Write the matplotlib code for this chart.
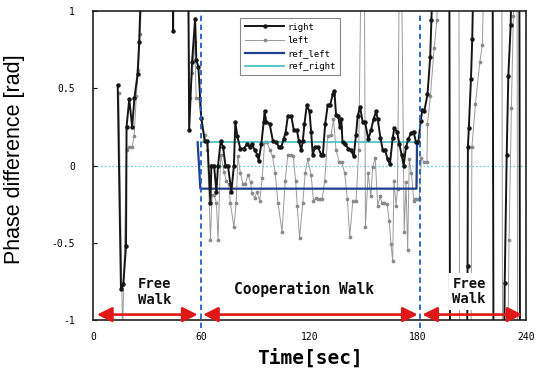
import numpy as np
import matplotlib
matplotlib.use("Agg")
import matplotlib.pyplot as plt

# ---------------- data ----------------
# right-foot phase difference (values beyond +/-1 rad run off the axes)
right_t = [13.7, 15.5, 16.8, 18.3, 18.6, 20.1, 21.7, 23.0, 24.7, 25.6, 27.0,
           44.2, 44.4, 44.6,
           52.8, 53.3, 54.9, 56.6, 57.3, 58.4, 60.0,
           61.9, 63.4, 65.1, 65.6, 67.1, 68.4, 69.3, 70.8, 72.1, 73.4, 74.8, 76.7, 78.1, 78.9,
           80.0, 81.6, 83.6, 85.5, 86.8, 88.1, 89.6, 91.1, 91.8, 93.3, 94.6, 95.1, 96.1, 97.9,
           99.7, 101.6, 103.0, 104.4, 105.6, 106.7, 108.0, 109.9, 111.3, 113.0, 114.1, 115.4,
           116.3, 117.2, 118.5, 120.0, 120.9, 121.8, 123.1, 124.6, 126.5, 127.4, 128.7, 130.1,
           131.4, 132.9, 133.8, 134.7, 135.9, 136.8, 137.6, 138.3, 139.4, 141.6, 143.0, 144.5,
           145.8, 146.7, 148.0, 149.5, 150.8, 152.6, 154.1, 155.5, 156.9, 157.8, 159.3, 160.6,
           161.9, 163.3, 164.6, 166.1, 167.0, 168.5, 169.8, 171.0, 172.2, 173.5, 174.8, 176.2,
           177.7, 179.0, 180.3, 181.7, 182.5, 183.6, 185.4, 186.9, 187.6, 188.5,
           197.5, 197.9,
           207.3, 207.6, 207.8, 208.3, 209.5, 210.2, 211.0,
           221.5, 222.0,
           227.8, 228.2, 229.3, 230.2, 231.5, 232.2,
           236.3, 236.7]
right_v = [0.52, -0.80, -0.77, -0.52, 0.25, 0.43, 0.25, 0.44, 0.59, 0.80, 1.3,
           1.3, 0.87, 1.3,
           1.3, 0.23, 0.67, 0.95, 0.68, 0.64, 0.31,
           0.16, 0.16, -0.24, 0.0, 0.0, -0.17, 0.0, 0.16, 0.12, 0.0, 0.0, -0.17, 0.0, 0.28,
           0.19, 0.11, 0.11, 0.14, 0.12, 0.14, 0.10, 0.07, 0.03, 0.14, 0.28, 0.35, 0.28, 0.27,
           0.16, 0.15, 0.12, 0.12, 0.17, 0.21, 0.32, 0.32, 0.23, 0.23, 0.16, 0.10,
           0.16, 0.27, 0.39, 0.35, 0.22, 0.07, 0.12, 0.12, 0.07, 0.07, 0.27, 0.39,
           0.39, 0.46, 0.48, 0.33, 0.32, 0.25, 0.30, 0.15, 0.14, 0.11, 0.10, 0.06,
           0.20, 0.32, 0.38, 0.28, 0.28, 0.17, 0.23, 0.30, 0.35, 0.30, 0.18, 0.10,
           0.10, 0.04, 0.01, 0.18, 0.24, 0.22, 0.14, 0.07, 0.0, 0.12, 0.17, 0.21,
           0.22, 0.15, 0.15, 0.29, 0.36, 0.35, 0.46, 0.70, 0.94, 1.3,
           1.3, -1.3,
           -1.3, -0.65, 0.12, 0.24, 0.56, 0.82, 1.3,
           1.3, -1.3,
           -1.3, -0.76, 0.07, 0.58, 0.91, 1.3,
           1.3, -1.3]

# left-foot phase difference
left_t = [14.3, 16.4, 18.6, 20.1, 21.7, 22.8, 24.0, 25.2, 26.2, 27.5,
          52.3, 53.6, 55.1, 56.3, 57.2, 58.6, 59.8,
          61.9, 63.4, 65.1, 66.0, 67.1, 68.4, 69.3, 70.8, 72.6, 73.9, 75.2, 76.1, 78.1, 79.4,
          80.3, 81.7, 83.1, 84.5, 85.9, 87.4, 88.1, 89.6, 90.9, 92.4, 93.8, 95.1, 96.5, 98.0,
          99.5, 101.0, 102.5, 104.8, 106.5, 108.0, 109.5, 111.0, 112.3, 113.2, 114.5, 116.3,
          117.6, 119.0, 120.9, 122.2, 123.5, 124.6, 126.0, 127.0, 128.4, 130.1, 132.0, 133.3,
          134.7, 136.6, 138.0, 139.5, 141.0, 142.3, 144.0, 145.8, 147.3, 148.6, 150.4, 151.0,
          152.5, 154.0, 155.0, 156.4, 157.8, 159.2, 160.0, 161.5, 163.0, 164.2, 165.2, 166.1,
          166.8, 168.0, 168.8, 169.8, 171.0, 172.5, 173.5, 174.4, 175.3, 176.5, 177.8, 178.6,
          179.6, 180.8, 182.0, 183.5, 185.1, 185.4, 187.0, 189.1, 190.6, 191.4,
          202.8, 203.2,
          209.5, 210.0, 212.0, 214.4, 215.8, 216.8,
          226.6, 227.0,
          229.8, 230.6, 231.9, 233.0, 233.6,
          235.0, 235.4]
left_v = [0.47, -1.1, 0.10, 0.12, 0.12, 0.19, 0.45, 0.62, 0.85, 1.3,
          1.3, 0.44, 0.60, 0.80, 0.44, 0.44, 0.30,
          0.20, 0.10, -0.48, -0.19, -0.19, -0.24, -0.48, 0.07, -0.04, -0.10, -0.12, -0.24, -0.40, -0.24,
          0.06, -0.05, -0.12, -0.12, -0.06, -0.11, -0.18, -0.21, -0.17, -0.23, -0.08, 0.15, 0.15, 0.10,
          0.06, -0.05, -0.24, -0.43, -0.10, 0.07, 0.07, 0.06, -0.10, -0.26, -0.47, -0.24,
          -0.05, 0.04, -0.06, -0.23, -0.21, -0.22, -0.22, -0.22, -0.10, 0.19, 0.20, 0.30,
          0.10, 0.02, 0.02, -0.05, -0.22, -0.46, -0.23, -0.23, 0.10, 1.3, 1.3, -0.40,
          -0.05, -0.20, -0.01, 0.05, -0.26, -0.20, -0.24, -0.24, -0.25, -0.36, -0.51, -0.62,
          -0.10, -0.26, -0.15, 1.3, 1.3, -0.43, -0.11, -0.55, 0.04, -0.05, -0.23, -0.22,
          -0.22, -0.22, 0.05, 0.02, 0.02, 0.27, 0.45, 0.76, 0.94, 1.3,
          1.3, -1.3,
          -1.3, 0.12, 0.40, 0.67, 0.78, 1.3,
          1.3, -1.3,
          -1.3, -0.48, 0.37, 0.97, 1.3,
          1.3, -1.3]

# reference values during cooperation walk
ref_left_t = [58.0, 59.5, 179.3, 179.6, 180.3]
ref_left_v = [0.15, -0.15, -0.15, 0.15, 0.15]
ref_right_t = [60.1, 180.3]
ref_right_v = [0.15, 0.15]

# phases
phase_bounds = [0, 60, 180, 240]
phase_names = ["Free\nWalk", "Cooperation Walk", "Free\nWalk"]

x_ticks = [0, 60, 120, 180, 240]
y_ticks = [-1, -0.5, 0, 0.5, 1]

# ---------------- plot ----------------
MONO = ["DejaVu Sans Mono"]
fig = plt.figure(figsize=(5.39, 3.69), dpi=100)
ax = fig.add_axes([93/539, 1-320/369, (526-93)/539, (320-11)/369])

ax.axhline(0, color="#7ccfd6", lw=0.9, ls=(0, (1.5, 1.5)), zorder=1)

ax.plot(left_t, left_v, color="#9a9a9a", lw=0.7, marker="o", ms=1.7,
        mfc="#8a8a8a", mec="#8a8a8a", label="left", zorder=2)
ax.plot(ref_left_t, ref_left_v, color="#1f3f8f", lw=1.6, label="ref_left", zorder=2.5)
ax.plot(ref_right_t, ref_right_v, color="#4cc4c4", lw=1.3, label="ref_right", zorder=2.4)
ax.plot(right_t, right_v, color="#151515", lw=1.4, marker="o", ms=2.2,
        label="right", zorder=3)

# phase boundaries
for b in phase_bounds[1:-1]:
    b_draw = b if b < 120 else b + 1.5
    ax.plot([b_draw, b_draw], [-1.05, 1.0], color="#1f5fc8", lw=1.3,
            ls=(0, (3, 2)), clip_on=False, zorder=4)

# arrows and phase names
arrow_y = -0.965
gaps = [(2.2, -2.0), (1.0, 0.0), (2.5, -2.0)]
label_y = [-0.82, -0.80, -0.815]
label_dx = [4, -3, -1.5]
for i, name in enumerate(phase_names):
    a, b = phase_bounds[i], phase_bounds[i+1]
    ax.annotate("", xy=(a + gaps[i][0], arrow_y), xytext=(b + gaps[i][1], arrow_y),
                arrowprops=dict(arrowstyle="<|-|>,head_length=0.9,head_width=0.45",
                                color="#e01818", lw=1.9, mutation_scale=10,
                                shrinkA=0, shrinkB=0),
                annotation_clip=False, zorder=5)
    fs = 10.5 if "\n" not in name else 10
    ax.text((a + b) / 2 + label_dx[i], label_y[i], name, ha="center", va="center",
            fontsize=fs, fontweight="bold", family=MONO, color="#111111",
            linespacing=1.15, zorder=6,
            bbox=dict(boxstyle="square,pad=0.25", fc="white", ec="none"))

ax.set_xlim(0, 240)
ax.set_ylim(-1, 1)
ax.set_xticks(x_ticks)
ax.set_xticklabels([str(v) for v in x_ticks])
ax.set_yticks(y_ticks)
ax.set_yticklabels(["-1", "-0.5", "0", "0.5", "1"])
for lab in ax.get_xticklabels() + ax.get_yticklabels():
    lab.set_family(MONO)
    lab.set_fontsize(7)
ax.tick_params(axis="y", direction="in", length=3, pad=13)
ax.tick_params(axis="x", direction="in", length=0, pad=9)
for s in ax.spines.values():
    s.set_linewidth(1.2)
    s.set_color("#222222")

ax.set_ylabel("Phase difference [rad]", fontsize=15.5, family=["Liberation Sans"])
ax.yaxis.set_label_coords(-0.157, 0.52)
ax.set_xlabel("Time[sec]", fontsize=14, fontweight="bold", family=MONO)
ax.xaxis.label.set_va("center")
ax.xaxis.set_label_coords(0.5, -0.122)

h, l = ax.get_legend_handles_labels()
order = [l.index(n) for n in ["right", "left", "ref_left", "ref_right"]]
leg = ax.legend([h[i] for i in order], [l[i] for i in order], loc="upper left",
                bbox_to_anchor=(0.34, 0.977), borderaxespad=0, fancybox=False,
                prop={"family": MONO, "size": 6.5}, handlelength=4.4,
                handletextpad=0.3, labelspacing=0.45, borderpad=0.5, framealpha=1)
leg.get_frame().set_edgecolor("#888888")
leg.get_frame().set_linewidth(0.8)
leg.set_zorder(7)

fig.savefig("out.png", dpi=100)
